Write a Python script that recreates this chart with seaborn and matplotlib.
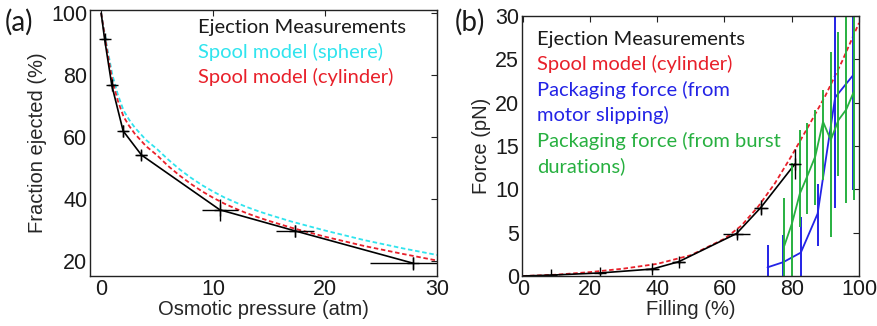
import matplotlib
matplotlib.use("Agg")
import matplotlib.pyplot as plt
import seaborn as sns
import numpy as np
import pandas as pd

# ---------------- Panel (a) data ----------------
ej_a_x = [0, 0.3, 0.95, 1.96, 3.6, 10.6, 17.3, 27.9]
ej_a_y = [100, 91.7, 76.6, 61.9, 54.1, 36.4, 29.6, 19.1]
ej_a_xerr = [0, 0.3, 0.35, 0.4, 0.5, 1.6, 1.7, 3.9]
ej_a_yerr = [0, 0.6, 1.2, 1.8, 1.5, 3.6, 2.0, 2.0]

model_a_x = [0, 0.5, 1, 1.5, 2, 2.5, 3, 4, 5, 6, 7, 8, 9, 10, 11, 12, 13, 14, 15,
             17, 20, 23.5, 27, 30]
sphere_a_y = [100, 89.5, 80, 73.5, 68.5, 65.5, 63, 59, 56, 52.6, 49.5, 46.8, 44.4,
              42.3, 40.4, 38.8, 37.3, 36.0, 34.8, 32.6, 29.7, 26.6, 23.9, 21.8]
cyl_a_y = [100, 88.5, 78, 71.5, 66.5, 63.5, 61, 57, 54, 50.5, 47.5, 44.8, 42.4,
           40.3, 38.4, 36.8, 35.3, 34.0, 32.8, 30.6, 27.7, 24.7, 22.1, 20.0]

# ---------------- Panel (b) data ----------------
ej_b_x = [0, 8.3, 23.0, 38.5, 46.4, 63.6, 70.8, 80.9]
ej_b_y = [0, 0.1, 0.35, 0.8, 1.65, 4.9, 7.9, 12.9]
ej_b_xerr = [0, 0.5, 0.5, 2.0, 2.0, 4.0, 2.1, 1.7]
ej_b_yerr = [0, 0.1, 0.1, 0.2, 0.3, 0.5, 0.9, 1.7]

model_b_x = [0, 10, 20, 30, 40, 50, 60, 65, 70, 75, 80, 85, 90, 95, 100]
cyl_b_y = [0, 0.15, 0.45, 0.85, 1.4, 2.4, 4.3, 5.8, 8.0, 10.7, 13.9, 17.3, 20.8, 24.8, 29.2]

blue_x = [72.8, 77.5, 82.7, 87.7, 92.9, 98.1]
blue_y = [1.0, 1.6, 2.7, 7.2, 20.6, 23.1]
blue_lo = [-1.6, -1.5, -1.4, 3.5, 7.8, 9.9]
blue_hi = [3.6, 4.7, 6.8, 10.6, 33.0, 36.0]

green_x = [77.8, 80.1, 82.4, 84.6, 87.0, 89.3, 91.6, 93.9, 96.2, 98.5]
green_y = [3.5, 6.1, 9.5, 11.5, 13.8, 17.8, 15.7, 18.0, 19.2, 21.3]
green_lo = [-1.0, -0.5, 5.7, 7.2, 8.2, 11.1, 4.5, 11.5, 8.4, 8.8]
green_hi = [9.0, 13.0, 16.8, 17.6, 19.2, 21.5, 25.9, 28.2, 31.0, 33.0]

CYAN = "#30e4ee"
RED = "#e8202a"
BLUE = "#2323e6"
GREEN = "#27b040"

sns.set_theme(style="white")
plt.rcParams["font.family"] = ["Liberation Sans", "DejaVu Sans"]

fig = plt.figure(figsize=(8.77, 3.26), dpi=100)
axa = fig.add_axes([90 / 877, 1 - 276 / 326, (437 - 90) / 877, (276 - 10) / 326])
axb = fig.add_axes([521.7 / 877, 1 - 276 / 326, (859 - 521.7) / 877, (276 - 16) / 326])

tick_fs = 15.5
lab_fs = 14.5
leg_font = "Lato"
leg_fs = 14.5

# ---------- panel a ----------
dfa = pd.DataFrame({"x": model_a_x, "sphere": sphere_a_y, "cyl": cyl_a_y})
sns.lineplot(data=dfa, x="x", y="sphere", ax=axa, color=CYAN, lw=1.3,
             linestyle=(0, (2.5, 1.5)), sort=False)
sns.lineplot(data=dfa, x="x", y="cyl", ax=axa, color=RED, lw=1.3,
             linestyle=(0, (2.5, 1.5)), sort=False)
dfe = pd.DataFrame({"x": ej_a_x, "y": ej_a_y})
sns.lineplot(data=dfe, x="x", y="y", ax=axa, color="black", lw=1.2, sort=False)
axa.errorbar(ej_a_x[1:], ej_a_y[1:], xerr=ej_a_xerr[1:], yerr=ej_a_yerr[1:],
             fmt="+", color="black", ms=9, mew=1.0, elinewidth=1.0, capsize=0)
axa.set_xlim(-1, 30)
axa.set_ylim(15, 101)
axa.set_xticks([0, 10, 20, 30])
axa.set_yticks([20, 40, 60, 80, 100])
axa.set_xlabel("Osmotic pressure (atm)", fontsize=lab_fs, labelpad=0)
axa.set_ylabel("Fraction ejected (%)", fontsize=lab_fs, labelpad=3)

lx = 198
for i, (t, c) in enumerate([("Ejection Measurements", "#1a1a1a"),
                            ("Spool model (sphere)", CYAN),
                            ("Spool model (cylinder)", RED)]):
    fig.text(lx / 877, 1 - (27 + 25 * i) / 326, t, color=c, fontsize=leg_fs,
             family=[leg_font, "DejaVu Sans"], va="center", ha="left")

# ---------- panel b ----------
dfb = pd.DataFrame({"x": model_b_x, "cyl": cyl_b_y})
sns.lineplot(data=dfb, x="x", y="cyl", ax=axb, color=RED, lw=1.3,
             linestyle=(0, (2.5, 1.5)), sort=False)
dfbe = pd.DataFrame({"x": ej_b_x, "y": ej_b_y})
sns.lineplot(data=dfbe, x="x", y="y", ax=axb, color="black", lw=1.2, sort=False)
axb.errorbar(ej_b_x[1:], ej_b_y[1:], xerr=ej_b_xerr[1:], yerr=ej_b_yerr[1:],
             fmt="+", color="black", ms=9, mew=1.0, elinewidth=1.0, capsize=0)

by = np.array(blue_y)
dfbl = pd.DataFrame({"x": blue_x, "y": blue_y})
sns.lineplot(data=dfbl, x="x", y="y", ax=axb, color=BLUE, lw=1.3, sort=False)
axb.errorbar(blue_x, blue_y, yerr=[by - np.array(blue_lo), np.array(blue_hi) - by],
             fmt="none", ecolor=BLUE, elinewidth=1.4, capsize=0)

gy = np.array(green_y)
dfg = pd.DataFrame({"x": green_x, "y": green_y})
sns.lineplot(data=dfg, x="x", y="y", ax=axb, color=GREEN, lw=1.3, sort=False)
axb.errorbar(green_x, green_y, yerr=[gy - np.array(green_lo), np.array(green_hi) - gy],
             fmt="none", ecolor=GREEN, elinewidth=1.4, capsize=0)

axb.set_xlim(-0.3, 100)
axb.set_ylim(0, 30)
axb.set_xticks([0, 20, 40, 60, 80, 100])
axb.set_yticks([0, 5, 10, 15, 20, 25, 30])
axb.set_xlabel("Filling (%)", fontsize=lab_fs, labelpad=0)
axb.set_ylabel("Force (pN)", fontsize=lab_fs, labelpad=3)

lx = 537
for i, (t, c) in enumerate([("Ejection Measurements", "#1a1a1a"),
                            ("Spool model (cylinder)", RED),
                            ("Packaging force (from", BLUE),
                            ("motor slipping)", BLUE),
                            ("Packaging force (from burst", GREEN),
                            ("durations)", GREEN)]):
    fig.text(lx / 877, 1 - (39 + 25.4 * i) / 326, t, color=c, fontsize=leg_fs,
             family=[leg_font, "DejaVu Sans"], va="center", ha="left")

for ax in (axa, axb):
    for s in ax.spines.values():
        s.set_color("#222222")
        s.set_linewidth(1.0)
        s.set_visible(True)
    ax.tick_params(direction="in", length=4, width=0.8, top=True, right=True,
                   labelsize=tick_fs, pad=2, colors="#222222")
    ax.tick_params(axis="both", labelcolor="#1a1a1a")
    ax.grid(False)

fig.text(5 / 877, 1 - 22 / 326, "(a)", fontsize=20,
         family=[leg_font, "DejaVu Sans"], va="center", ha="left", color="#1a1a1a")
fig.text(455 / 877, 1 - 22 / 326, "(b)", fontsize=20,
         family=[leg_font, "DejaVu Sans"], va="center", ha="left", color="#1a1a1a")

fig.savefig("out.png", dpi=100)
